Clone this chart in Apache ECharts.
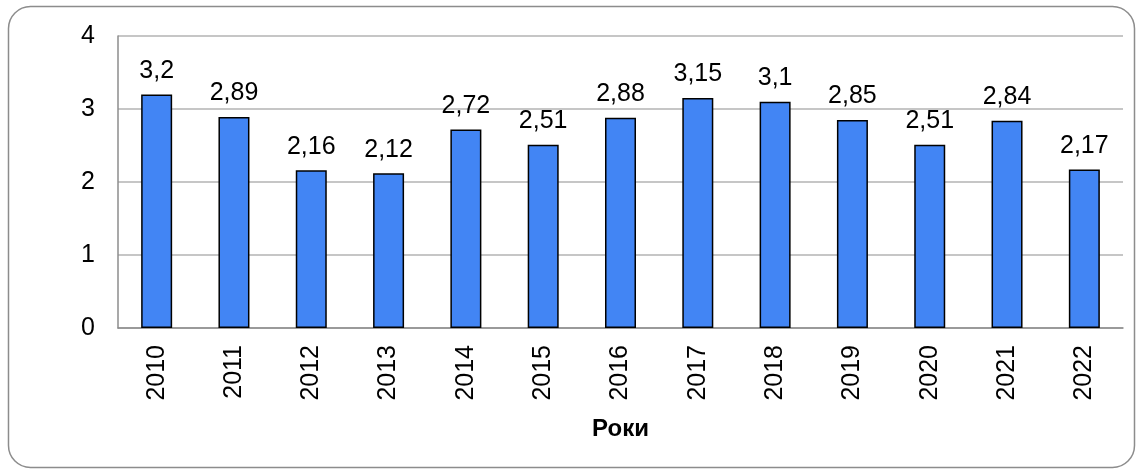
<!DOCTYPE html>
<html><head><meta charset="utf-8">
<script src="https://cdn.jsdelivr.net/npm/echarts@6/dist/echarts.min.js"></script>
<style>html,body{margin:0;padding:0;background:#fff}#c{width:1143px;height:473px}</style>
</head><body><div id="c"></div>
<script>
const categories = ['2010','2011','2012','2013','2014','2015','2016','2017','2018','2019','2020','2021','2022'];
const values = [3.2, 2.89, 2.16, 2.12, 2.72, 2.51, 2.88, 3.15, 3.1, 2.85, 2.51, 2.84, 2.17];
const yTicks = [0, 1, 2, 3, 4];
const axisName = 'Роки';

const chart = echarts.init(document.getElementById('c'), null, {renderer: 'canvas'});
const font = 'Liberation Sans, Arial, sans-serif';
chart.setOption({
  animation: false,
  textStyle: {fontFamily: font},
  graphic: [{
    type: 'rect', z: -10,
    shape: {x: 8.5, y: 6.5, width: 1126, height: 461, r: 22},
    style: {fill: '#fff', stroke: '#8c8c8c', lineWidth: 1.5}
  }],
  grid: {left: 118, right: 20, top: 36, bottom: 145},
  xAxis: {
    type: 'category', data: categories,
    axisLine: {show: true, lineStyle: {color: '#8c8c8c', width: 1.5}},
    axisTick: {show: false},
    axisLabel: {rotate: 90, fontSize: 25, color: '#000', margin: 17, fontFamily: font},
    name: axisName, nameLocation: 'middle', nameGap: 89,
    nameTextStyle: {fontSize: 24, fontWeight: 'bold', color: '#000', fontFamily: font}
  },
  yAxis: {
    type: 'value', min: yTicks[0], max: yTicks[yTicks.length-1], interval: 1,
    axisLine: {show: true, lineStyle: {color: '#8c8c8c', width: 1.5}},
    axisTick: {show: false},
    axisLabel: {fontSize: 25, color: '#000', margin: 23, fontFamily: font},
    splitLine: {lineStyle: {color: '#b3b3b3', width: 1.5}}
  },
  series: [{
    type: 'bar', data: values, barWidth: 31,
    itemStyle: {color: '#4285f4', borderColor: '#000', borderWidth: 1.5},
    label: {show: true, position: 'top', distance: 11, fontSize: 25, color: '#000', fontFamily: font,
      formatter: p => String(p.value).replace('.', ',')}
  }]
});
</script></body></html>
